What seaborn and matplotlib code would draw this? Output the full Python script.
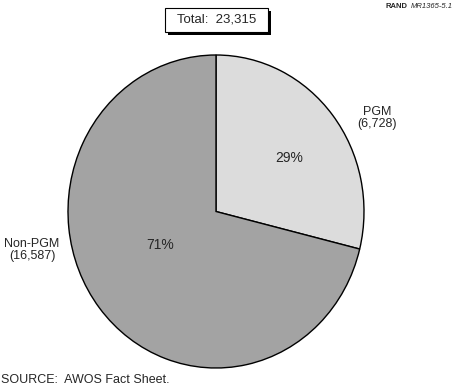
import matplotlib
matplotlib.use("Agg")
import matplotlib.pyplot as plt
import seaborn as sns
from matplotlib.patches import Rectangle

sns.set_theme(style="white")
plt.rcParams['font.family'] = ['Liberation Sans', 'DejaVu Sans']

categories = ["PGM", "Non-PGM"]
counts = [6728, 16587]
count_labels = ["6,728", "16,587"]
pct_labels = ["29%", "71%"]
total_label = "Total:  23,315"
colors = ["#dcdcdc", "#a3a3a3"]

W, H = 454, 388
fig = plt.figure(figsize=(W / 100, H / 100), dpi=100)
cx, cy, rx, ry = 216, 211.5, 148, 156.5
ax = fig.add_axes([(cx - rx) / W, 1 - (cy + ry) / H, 2 * rx / W, 2 * ry / H])
wedges, _ = ax.pie(counts, colors=colors, startangle=90, counterclock=False,
                   wedgeprops=dict(edgecolor="black", linewidth=1.0))
ax.set_aspect("auto")
ax.set_xlim(-1, 1)
ax.set_ylim(-1, 1)

def fx(px):
    return px / W

def fy(py):
    return 1 - py / H

fig.text(fx(289), fy(158), pct_labels[0], ha="center", va="center", fontsize=10)
fig.text(fx(160), fy(245), pct_labels[1], ha="center", va="center", fontsize=10)
fig.text(fx(377), fy(118), f"{categories[0]}\n({count_labels[0]})", ha="center",
         va="center", fontsize=9, linespacing=1.0)
fig.text(fx(32), fy(250), f"{categories[1]}\n({count_labels[1]})", ha="center",
         va="center", fontsize=9, linespacing=1.0)

# Total box with shadow
bx0, by0, bw, bh = 165, 8, 103, 24
fig.patches.append(Rectangle((fx(bx0 + 3), fy(by0 + bh + 3)), bw / W, bh / H,
                             transform=fig.transFigure, facecolor="black",
                             edgecolor="none", zorder=1))
fig.patches.append(Rectangle((fx(bx0), fy(by0 + bh)), bw / W, bh / H,
                             transform=fig.transFigure, facecolor="white",
                             edgecolor="black", linewidth=0.8, zorder=2))
fig.text(fx(bx0 + bw / 2), fy(by0 + bh / 2), total_label, ha="center",
         va="center", fontsize=9.5, zorder=3)

fig.text(fx(453), fy(6), "MR1365-5.1", ha="right", va="center",
         fontsize=5.5, style="italic")
fig.text(fx(408), fy(6), "RAND", ha="right", va="center", fontsize=5.5,
         fontweight="bold")

fig.text(fx(1), fy(380), "SOURCE:  AWOS Fact Sheet.", ha="left", va="center",
         fontsize=9)

fig.savefig("out.png", dpi=100)
